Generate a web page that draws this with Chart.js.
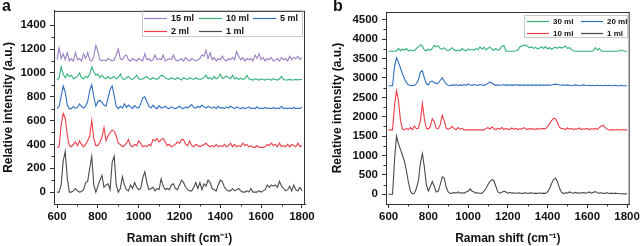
<!DOCTYPE html>
<html>
<head>
<meta charset="utf-8">
<script src="https://cdn.jsdelivr.net/npm/chart.js@4"></script>
<style>
  body { margin: 0; background: #fff; }
  .panel { position: absolute; top: 0; height: 246px; }
  .tag { position: absolute; top: -3px; font: bold 16px "Liberation Sans", Arial, sans-serif; color: #111; }
</style>
</head>
<body>
<div class="panel" style="left:0;width:320px"><canvas id="chartA" width="320" height="246"></canvas></div>
<div class="panel" style="left:320px;width:322px"><canvas id="chartB" width="322" height="246"></canvas></div>
<div class="tag" style="left:2px">a</div>
<div class="tag" style="left:333px">b</div>
<script>
// --- Data ---
const shift = [600,610,620,630,640,650,660,670,680,690,700,710,720,730,740,750,760,770,780,790,
  800,810,820,830,840,850,860,870,880,890,900,910,920,930,940,950,960,970,980,990,
  1000,1010,1020,1030,1040,1050,1060,1070,1080,1090,1100,1110,1120,1130,1140,1150,1160,1170,1180,1190,
  1200,1210,1220,1230,1240,1250,1260,1270,1280,1290,1300,1310,1320,1330,1340,1350,1360,1370,1380,1390,
  1400,1410,1420,1430,1440,1450,1460,1470,1480,1490,1500,1510,1520,1530,1540,1550,1560,1570,1580,1590,
  1600,1610,1620,1630,1640,1650,1660,1670,1680,1690,1700,1710,1720,1730,1740,1750,1760,1770,1780,1790,1800];

const xTicks = [600, 800, 1000, 1200, 1400, 1600, 1800];
const xMinor = [700, 900, 1100, 1300, 1500, 1700];
const yTicksA = [0, 200, 400, 600, 800, 1000, 1200, 1400];
const yMinorA = [100, 300, 500, 700, 900, 1100, 1300];
const yTicksB = [0, 500, 1000, 1500, 2000, 2500, 3000, 3500, 4000, 4500];
const yMinorB = [250, 750, 1250, 1750, 2250, 2750, 3250, 3750, 4250];

// panel a
const a15ml = [1110,1210,1120,1160,1110,1170,1100,1120,1100,1170,1110,1120,1100,1160,1120,1170,1110,1100,1140,1230,
  1180,1110,1100,1110,1100,1120,1110,1100,1110,1150,1200,1120,1110,1140,1150,1110,1100,1120,1110,1100,
  1120,1110,1100,1160,1110,1120,1100,1110,1150,1110,1120,1110,1150,1100,1110,1120,1110,1150,1110,1100,
  1110,1120,1100,1130,1110,1100,1120,1110,1100,1110,1120,1150,1140,1190,1120,1170,1110,1130,1100,1120,
  1110,1140,1110,1100,1120,1110,1130,1110,1180,1140,1110,1130,1100,1120,1110,1120,1100,1150,1120,1160,
  1110,1130,1100,1120,1110,1130,1100,1110,1120,1100,1130,1110,1120,1100,1140,1110,1130,1120,1140,1110,1130];
const a10ml = [940,960,1050,990,960,990,970,980,950,960,970,1000,960,950,970,960,990,1050,1010,980,
  990,960,980,960,950,970,950,960,970,950,960,990,950,945,960,970,950,945,960,980,
  950,945,950,960,970,950,945,960,950,945,960,980,975,960,950,945,960,950,945,960,
  950,940,960,950,945,960,950,945,960,950,945,950,960,980,950,960,945,970,950,960,
  990,955,960,975,960,950,980,950,960,945,955,945,950,980,950,945,940,950,945,940,
  950,945,940,950,945,940,950,945,940,950,970,945,940,940,945,940,940,945,940,945,945];
const a5ml = [700,720,800,890,840,730,700,700,720,700,710,740,720,705,720,760,850,900,800,720,
  760,770,750,730,720,790,860,890,810,720,700,720,705,740,710,730,715,700,725,710,
  705,740,790,800,760,720,705,730,710,700,725,705,710,720,705,700,715,705,700,710,
  720,705,700,715,705,720,735,710,705,720,710,730,715,705,720,710,705,715,700,720,
  705,710,700,715,705,720,710,700,715,705,700,710,700,705,715,700,705,700,715,700,
  705,700,710,700,705,700,710,700,705,700,720,700,705,700,705,700,710,700,705,700,715];
const a2ml = [375,380,560,660,620,480,390,380,400,420,390,430,400,380,400,430,470,600,450,390,
  390,420,460,540,430,470,500,520,510,470,410,400,380,390,410,440,390,380,400,390,
  430,410,380,390,380,400,390,440,430,450,420,440,450,420,390,400,380,390,400,420,
  410,440,440,400,390,430,390,380,400,390,380,390,400,410,390,380,390,380,400,380,
  390,380,400,380,390,410,380,400,380,390,380,410,390,400,380,390,375,375,390,375,
  375,375,380,400,390,410,390,400,380,410,380,390,380,400,380,400,390,380,410,380,390];
const a1ml = [0,0,60,260,340,120,0,0,10,30,10,0,5,20,80,90,200,300,60,0,
  50,100,140,40,60,70,20,250,300,60,0,30,130,60,20,10,60,30,80,40,
  20,30,120,170,80,20,30,40,10,30,20,110,50,20,30,20,60,70,30,20,
  60,100,80,40,20,10,10,40,80,30,80,20,70,50,100,80,30,20,10,60,
  100,90,40,20,10,10,30,10,20,30,10,0,0,10,0,30,0,0,0,10,
  0,10,20,60,40,60,50,60,40,90,50,30,10,20,50,10,60,20,10,40,10];

// panel b
const b30ml = [3690,3690,3690,3690,3700,3760,3700,3740,3720,3760,3700,3720,3700,3710,3760,3800,3850,3820,3720,3700,
  3740,3710,3760,3840,3800,3830,3760,3740,3780,3720,3710,3730,3780,3720,3700,3720,3700,3760,3720,3700,
  3750,3720,3740,3710,3760,3730,3800,3740,3790,3720,3760,3800,3740,3720,3760,3710,3740,3820,3840,3700,
  3690,3690,3690,3690,3700,3720,3800,3820,3840,3850,3810,3780,3800,3760,3790,3750,3770,3800,3760,3810,
  3750,3780,3740,3770,3790,3760,3800,3770,3790,3820,3760,3780,3730,3700,3690,3690,3690,3690,3690,3690,
  3690,3690,3690,3700,3780,3720,3760,3700,3690,3690,3690,3690,3690,3690,3690,3690,3700,3720,3700,3690,3680];
const b20ml = [2800,2800,2800,3300,3520,3400,3250,3100,2980,2880,2820,2810,2800,2810,2850,2950,3150,3190,3000,2850,
  2820,2900,2920,2880,2850,2870,2940,3000,2920,2840,2810,2800,2820,2810,2830,2800,2820,2810,2830,2810,
  2840,2820,2810,2830,2820,2810,2830,2820,2810,2830,2860,2890,2870,2830,2810,2820,2810,2820,2830,2810,
  2820,2810,2820,2810,2830,2810,2820,2810,2820,2810,2820,2810,2820,2810,2820,2810,2820,2810,2820,2810,
  2820,2810,2820,2830,2840,2830,2820,2810,2820,2810,2820,2810,2800,2810,2820,2810,2800,2810,2820,2810,
  2800,2810,2800,2810,2800,2810,2800,2810,2800,2810,2800,2810,2800,2800,2810,2800,2800,2810,2800,2800,2800];
const b10ml = [1660,1660,1660,2300,2670,2400,1900,1680,1660,1700,1670,1720,1670,1760,1690,1700,1900,2340,1950,1700,
  1680,1750,1950,1880,1700,1690,1800,2040,1900,1700,1680,1700,1750,1690,1670,1720,1680,1700,1660,1660,
  1660,1660,1660,1660,1660,1660,1660,1660,1660,1700,1720,1680,1740,1690,1670,1700,1680,1720,1670,1700,
  1680,1670,1710,1680,1700,1670,1690,1680,1720,1690,1670,1700,1680,1690,1670,1700,1680,1690,1700,1690,
  1750,1820,1900,1960,1950,1850,1720,1700,1690,1670,1710,1680,1700,1670,1690,1680,1710,1670,1690,1680,
  1700,1670,1690,1680,1700,1670,1720,1760,1780,1720,1680,1660,1660,1660,1660,1670,1660,1660,1670,1660,1660];
const b1ml = [0,0,0,900,1500,1300,1150,1000,850,600,300,80,10,30,150,350,800,1050,700,250,
  80,200,330,200,60,80,250,450,420,180,60,20,30,50,30,60,30,40,30,60,
  80,140,80,60,30,40,20,30,80,150,250,330,380,350,200,60,30,50,80,60,
  30,50,30,40,20,40,30,20,30,40,20,30,40,20,30,20,40,20,30,20,
  60,150,280,380,420,320,160,50,20,40,30,60,40,30,50,30,40,30,50,30,
  40,60,30,50,70,40,30,40,20,30,40,20,30,20,30,20,20,10,20,10,10];

const PURPLE = '#9b80c6', GREEN = '#2fb176', BLUE = '#2f6fc0', RED = '#ee3d47', GREY = '#4a4a4a';
const FONT = '"Liberation Sans", Arial, sans-serif';

// --- Plugins ---
// box round the plot plus small minor ticks
const framePlugin = {
    id: 'frame',
    afterDraw(chart, args, opts) {
        const { ctx, chartArea: a, scales } = chart;
        ctx.save();
        ctx.strokeStyle = '#333';
        ctx.lineWidth = 1;
        ctx.beginPath();
        ctx.moveTo(a.left, a.top + 0.5); ctx.lineTo(a.right, a.top + 0.5);
        ctx.moveTo(a.right - 0.5, a.top); ctx.lineTo(a.right - 0.5, a.bottom);
        (opts.xMinor || []).forEach(v => {
            const px = Math.round(scales.x.getPixelForValue(v)) + 0.5;
            ctx.moveTo(px, a.bottom); ctx.lineTo(px, a.bottom + 2.5);
        });
        (opts.yMinor || []).forEach(v => {
            const py = Math.round(scales.y.getPixelForValue(v)) + 0.5;
            ctx.moveTo(a.left, py); ctx.lineTo(a.left - 2.5, py);
        });
        ctx.stroke();
        ctx.restore();
    }
};

// legend drawn inside the plot, in a thin grey box
const boxLegend = {
    id: 'boxLegend',
    afterDraw(chart, args, o) {
        const ctx = chart.ctx;
        ctx.save();
        ctx.strokeStyle = '#c8c8c8';
        ctx.lineWidth = 1;
        ctx.strokeRect(o.x + 0.5, o.y + 0.5, o.w, o.h);
        ctx.font = 'bold ' + o.size + 'px ' + FONT;
        ctx.textBaseline = 'middle';
        o.order.forEach((label, i) => {
            const ds = chart.data.datasets.find(d => d.label === label);
            const col = i % o.cols.length, row = Math.floor(i / o.cols.length);
            const lx = o.cols[col], ly = o.rows[row];
            ctx.strokeStyle = ds.borderColor;
            ctx.lineWidth = 1.2;
            ctx.beginPath();
            ctx.moveTo(lx, ly + 0.5); ctx.lineTo(lx + o.line, ly + 0.5);
            ctx.stroke();
            ctx.fillStyle = '#111';
            ctx.fillText(label, lx + o.line + 4, ly + 1);
        });
        ctx.restore();
    }
};

function series(label, ys, color) {
    return {
        label: label,
        data: shift.map((x, i) => ({ x: x, y: ys[i] })),
        borderColor: color,
        borderWidth: 1.1,
        pointRadius: 0,
        tension: 0,
        fill: false
    };
}

function makeChart(id, cfg) {
    const tickFont = { family: FONT, size: 11.5, weight: 'bold' };
    const titleFont = { family: FONT, size: 12, weight: 'bold' };
    return new Chart(document.getElementById(id), {
        type: 'line',
        data: { datasets: cfg.datasets },
        options: {
            responsive: false,
            animation: false,
            events: [],
            layout: { autoPadding: false, padding: cfg.padding },
            plugins: {
                legend: { display: false },
                tooltip: { enabled: false },
                frame: { xMinor: xMinor, yMinor: cfg.yMinor },
                boxLegend: cfg.legend
            },
            scales: {
                x: {
                    type: 'linear',
                    min: cfg.xMin, max: cfg.xMax,
                    afterBuildTicks: s => { s.ticks = xTicks.map(v => ({ value: v })); },
                    afterFit: s => { s.height = 42; },
                    ticks: { font: tickFont, color: '#111', padding: 2, maxRotation: 0, callback: v => String(v) },
                    grid: { drawOnChartArea: false, tickLength: 4, color: '#333' },
                    border: { color: '#333' },
                    title: { display: true, text: 'Raman shift (cm\u207B\u00B9)', font: titleFont, color: '#111', padding: { top: 4, bottom: 0 } }
                },
                y: {
                    type: 'linear',
                    min: cfg.yMin, max: cfg.yMax,
                    afterBuildTicks: s => { s.ticks = cfg.yTicks.map(v => ({ value: v })); },
                    afterFit: s => { s.width = cfg.yWidth; },
                    ticks: { font: tickFont, color: '#111', padding: 4, callback: v => String(v) },
                    grid: { drawOnChartArea: false, tickLength: 4, color: '#333' },
                    border: { color: '#333' },
                    title: { display: true, text: 'Relative intensity (a.u.)', font: titleFont, color: '#111', padding: 0 }
                }
            }
        },
        plugins: [framePlugin, boxLegend]
    });
}

makeChart('chartA', {
    datasets: [
        series('1 ml', a1ml, GREY),
        series('2 ml', a2ml, RED),
        series('5 ml', a5ml, BLUE),
        series('10 ml', a10ml, GREEN),
        series('15 ml', a15ml, PURPLE)
    ],
    padding: { left: 1, right: 15, top: 5, bottom: 0 },
    xMin: 585, xMax: 1815,
    yMin: -100, yMax: 1520,
    yTicks: yTicksA, yMinor: yMinorA, yWidth: 53,
    legend: { x: 142, y: 10, w: 160, h: 26, size: 9, cols: [144, 199, 253], rows: [18, 31], line: 23,
              order: ['15 ml', '10 ml', '5 ml', '2 ml', '1 ml'] }
});

makeChart('chartB', {
    datasets: [
        series('1 ml', b1ml, GREY),
        series('10 ml', b10ml, RED),
        series('20 ml', b20ml, BLUE),
        series('30 ml', b30ml, GREEN)
    ],
    padding: { left: 10, right: 11, top: 12, bottom: 0 },
    xMin: 587, xMax: 1813,
    yMin: -250, yMax: 4700,
    yTicks: yTicksB, yMinor: yMinorB, yWidth: 56,
    legend: { x: 204, y: 15, w: 103, h: 22, size: 8, cols: [207, 261], rows: [21, 33], line: 22,
              order: ['30 ml', '20 ml', '10 ml', '1 ml'] }
});
</script>
</body>
</html>
